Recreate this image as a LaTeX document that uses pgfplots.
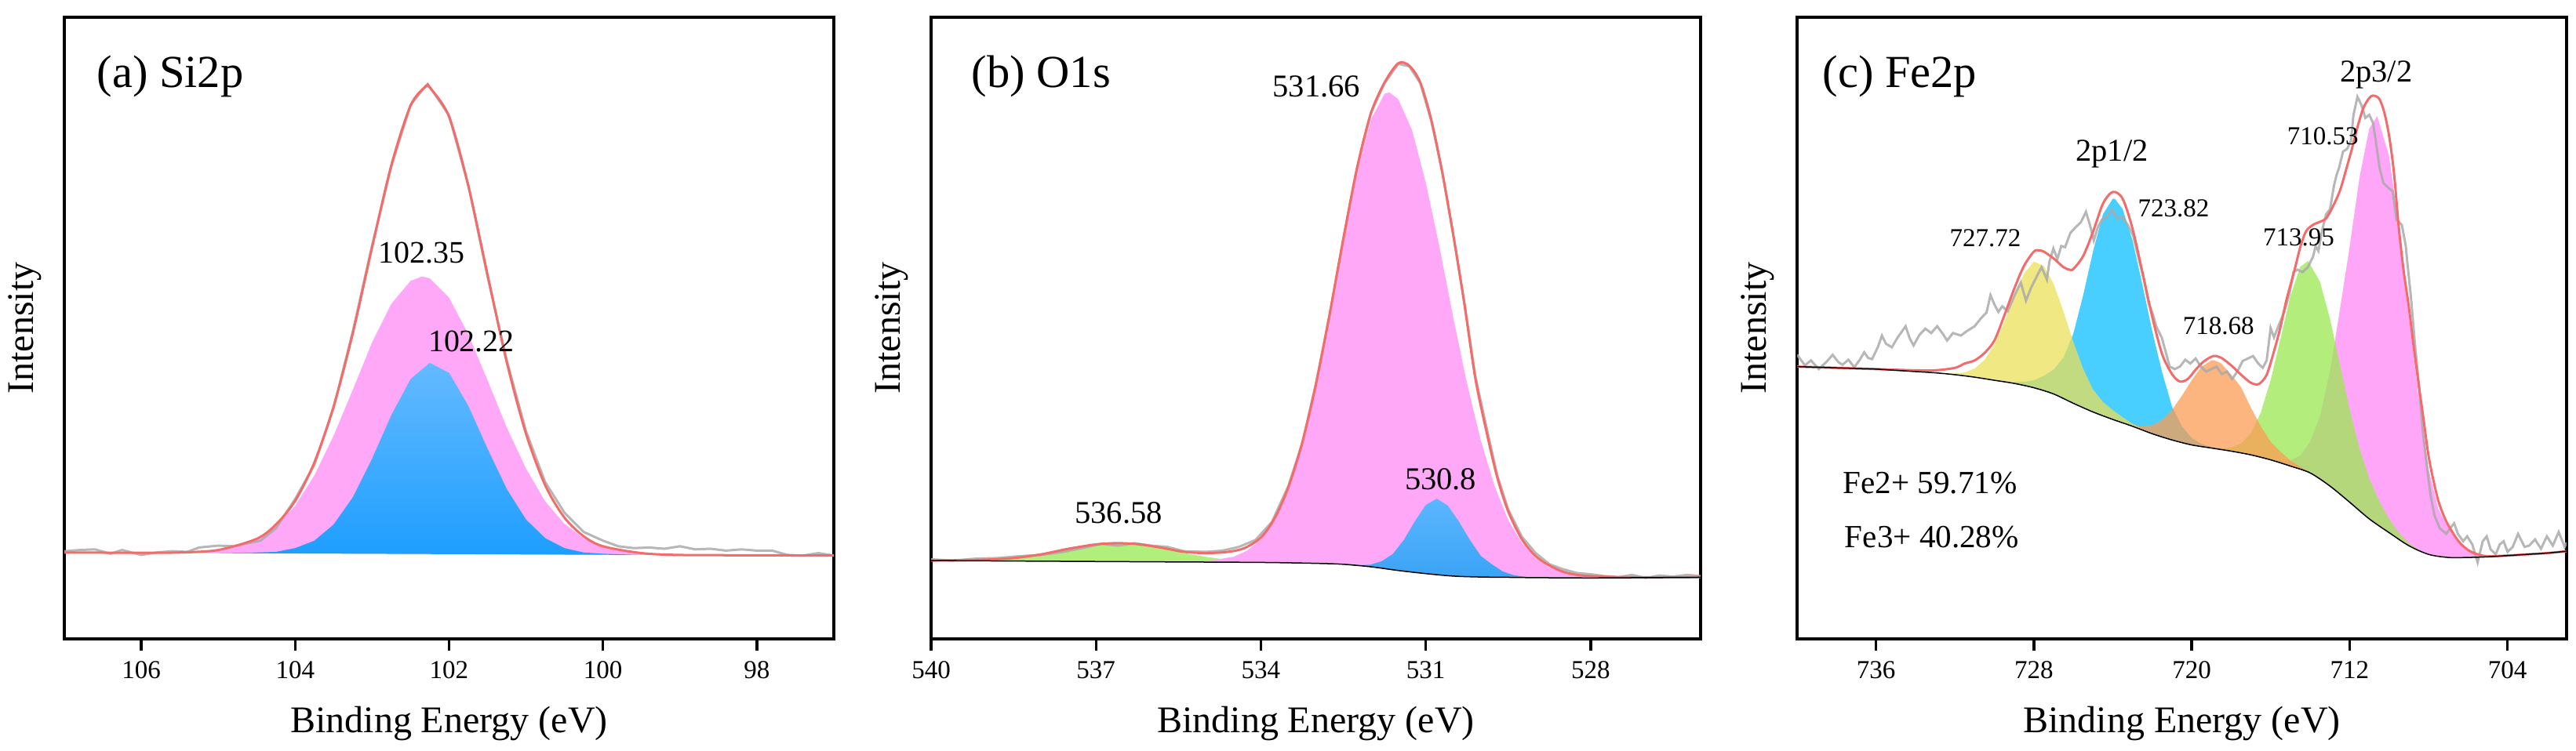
\documentclass[border=0pt]{standalone}
\usepackage{fontspec}
\setmainfont{Liberation Serif}
\usepackage{pgfplots}
\pgfplotsset{compat=1.18}
\definecolor{pinkA}{RGB}{255,168,248}
\definecolor{pinkC}{RGB}{255,166,249}
\definecolor{blueAtop}{RGB}{100,186,255}
\definecolor{blueAbot}{RGB}{30,158,255}
\definecolor{blueBtop}{RGB}{92,182,255}
\definecolor{blueBbot}{RGB}{58,164,245}
\definecolor{greenB}{RGB}{178,238,124}
\definecolor{yellowC}{RGB}{235,224,88}
\definecolor{blueC}{RGB}{11,191,255}
\definecolor{orangeC}{RGB}{251,156,83}
\definecolor{greenC}{RGB}{154,232,80}
\definecolor{rawgray}{RGB}{170,170,170}
\definecolor{envred}{RGB}{242,108,108}
\pgfplotsset{
  xps/.style={
    scale only axis, width=327pt, height=264.33pt,
    x dir=reverse, ymin=0, ymax=100, ytick=\empty,
    axis line style={line width=1.1pt},
    tick pos=left, tick align=outside, major tick length=5pt,
    every tick/.style={black, line width=1.1pt},
    tick label style={font=\fontsize{11}{13}\selectfont},
    xticklabel style={anchor=base, yshift=-12pt},
    /pgf/number format/assume math mode=true,
    clip mode=individual,
  },
  raw/.style={rawgray, line width=1pt, opacity=0.85},
  env/.style={envred, line width=1pt, smooth, tension=0.5},
}
\newcommand{\axlabels}{%
  \node[xshift=-16.7pt, rotate=90, font=\fontsize{16}{19}\selectfont] at (rel axis cs:0,0.5) {Intensity};
  \node[anchor=base, yshift=-40pt, font=\fontsize{16}{19}\selectfont] at (rel axis cs:0.5,0) {Binding Energy (eV)};
}
\begin{document}
\begin{tikzpicture}
% ---------------- (a) Si2p ----------------
\begin{axis}[xps, at={(27.33pt,47.67pt)}, anchor=south west,
  xmin=97, xmax=107, xtick={98,100,102,104,106}]
\addplot[draw=none, fill=pinkA] coordinates {
 (106,13.85) (105.5,13.9) (105.0,14.3) (104.5,16.0) (104.25,18.1) (104.0,21.4)
 (103.75,26.3) (103.5,32.7) (103.25,40.1) (103.0,47.7) (102.75,53.9) (102.5,57.6)
 (102.35,58.3) (102.25,58.0) (102.0,54.9) (101.75,49.0) (101.5,41.6) (101.25,34.0)
 (101.0,27.4) (100.75,22.1) (100.5,18.5) (100.25,16.2) (100.0,14.8) (99.5,13.8) (99.0,13.5)
} -- cycle;
\addplot[draw=none, top color=blueAtop, bottom color=blueAbot] coordinates {
 (105.0,13.8) (104.5,13.9) (104.25,14.0) (104.0,14.6) (103.75,15.8) (103.5,18.4)
 (103.25,22.8) (103.0,29.0) (102.75,36.0) (102.5,41.8) (102.25,44.4) (102.0,42.8)
 (101.75,37.5) (101.5,30.6) (101.25,24.1) (101.0,19.2) (100.75,16.2) (100.5,14.6)
 (100.25,13.9) (100.0,13.7) (99.5,13.5)
} -- cycle;
\addplot[raw] coordinates {
 (107,14.1) (106.8,14.3) (106.6,14.4) (106.4,13.7) (106.25,14.3) (106.0,13.5) (105.8,13.9)
 (105.6,14.1) (105.4,14.0) (105.25,14.7) (105.0,15.0) (104.8,14.9) (104.65,15.3) (104.45,15.8)
 (104.25,17.8) (104.0,22.5) (103.75,28.0) (103.5,37.2) (103.25,49.5) (103.0,63.3) (102.75,76.0)
 (102.5,85.9) (102.3,89.0) (102.25,88.8) (102.0,84.2) (101.75,73.0) (101.5,58.3) (101.25,44.8)
 (101.0,33.4) (100.75,25.2) (100.5,20.3) (100.25,17.2) (100.0,15.8) (99.8,14.9) (99.6,14.6)
 (99.4,14.7) (99.2,14.5) (99.0,14.9) (98.8,14.4) (98.6,14.5) (98.4,14.2) (98.2,14.4) (98.0,14.2)
 (97.8,14.2) (97.6,13.5) (97.4,13.4) (97.2,13.8) (97.0,13.4)
};
\addplot[env] coordinates {
 (107,13.9) (106.5,13.87) (106,13.85) (105.5,13.9) (105.0,14.3) (104.5,16.1) (104.25,18.4)
 (104.0,22.2) (103.75,28.4) (103.5,37.4) (103.25,49.2) (103.0,63.0) (102.75,76.2) (102.5,85.8)
 (102.3,88.9) (102.25,88.7) (102.0,84.0) (101.75,72.9) (101.5,58.6) (101.25,44.5) (101.0,33.0)
 (100.75,24.7) (100.5,19.5) (100.25,16.5) (100.0,14.9) (99.5,13.8) (99.0,13.5) (98,13.45) (97,13.4)
};
\node[anchor=base west, font=\fontsize{19.5}{23}\selectfont] at (rel axis cs:0.0316,0.887) {(a) Si2p};
\node[font=\fontsize{13.3}{16}\selectfont] at (axis cs:102.36,62.1) {102.35};
\node[font=\fontsize{13.3}{16}\selectfont] at (axis cs:101.71,47.8) {102.22};
\axlabels
\end{axis}
% ---------------- (b) O1s ----------------
\begin{axis}[xps, at={(395.67pt,47.67pt)}, anchor=south west,
  xmin=526, xmax=540, xtick={528,531,534,537,540}]
\addplot[draw=none, fill=greenB] coordinates {
 (540,12.6) (539.5,12.62) (539,12.72) (538.5,13.0) (538,13.6) (537.5,14.5) (537,15.2)
 (536.6,15.4) (536.2,15.2) (535.8,14.6) (535.4,13.8) (535,13.2) (534.6,12.7) (534.2,12.5)
 (533.8,12.3) (533.4,12.2)
 (534,12.3) (536,12.4) (538,12.5)
} -- cycle;
\addplot[draw=none, fill=pinkA] coordinates {
 (535.5,12.4) (535,12.5) (534.5,13.2) (534.25,14.2) (534,16.0) (533.75,19.1) (533.5,24.0)
 (533.25,31.1) (533,40.6) (532.75,51.8) (532.5,63.9) (532.25,75.1) (532,83.5) (531.75,87.7)
 (531.66,87.9) (531.5,86.8) (531.25,81.85) (531,73.4) (530.75,63.0) (530.5,51.7) (530.25,41.1)
 (530,31.95) (529.75,24.6) (529.5,19.1) (529.25,15.4) (529,12.95) (528.75,11.5) (528.5,10.65)
 (528.25,10.2) (528,9.97) (527.5,9.85)
 (528,9.8) (529,9.85) (529.5,9.9) (530,9.95) (530.5,10.1) (531,10.5) (531.5,11.0) (532,11.6)
 (532.5,12.0) (533,12.15) (534,12.3) (535,12.37)
} -- cycle;
\addplot[draw=none, top color=blueBtop, bottom color=blueBbot] coordinates {
 (532.4,11.85) (532.2,11.85) (532,11.95) (531.8,12.5) (531.6,13.65) (531.4,15.9) (531.2,18.9)
 (531,21.55) (530.8,22.55) (530.6,21.45) (530.4,18.9) (530.2,15.95) (530,13.35) (529.8,12.0)
 (529.6,10.85) (529.4,10.25) (529.2,9.98) (529,9.85)
 (529.5,9.9) (530,9.95) (530.5,10.1) (531,10.5) (531.5,11.0) (532,11.6)
} -- cycle;
\addplot[raw] coordinates {
 (540,12.8) (539.6,12.6) (539.2,12.9) (538.8,13.0) (538.4,13.3) (538,13.5) (537.6,14.0)
 (537.2,14.7) (536.9,15.3) (536.6,15.0) (536.3,15.4) (536.0,15.0) (535.7,14.8) (535.4,14.1)
 (535.0,14.0) (534.7,14.2) (534.4,14.8) (534.1,15.9) (533.8,18.8) (533.5,24.6) (533.25,31.4)
 (533.0,41.0) (532.75,52.1) (532.5,64.2) (532.25,75.7) (532.0,84.6) (531.75,89.4) (531.5,92.5)
 (531.3,92.1) (531.1,89.4) (530.9,83.3) (530.7,75.2) (530.5,65.0) (530.3,54.2) (530.1,42.3)
 (529.9,34.2) (529.7,26.3) (529.5,20.8) (529.25,16.4) (529.0,13.8) (528.75,12.0) (528.5,11.2)
 (528.25,10.6) (528.0,10.4) (527.75,10.1) (527.5,9.9) (527.25,10.3) (527.0,9.8) (526.75,10.2)
 (526.5,10.0) (526.25,10.3) (526.0,10.1)
};
\addplot[env] coordinates {
 (540,12.6) (539.5,12.65) (539,12.75) (538.5,13.0) (538,13.6) (537.5,14.5) (537,15.2)
 (536.6,15.4) (536.2,15.2) (535.8,14.65) (535.4,14.0) (535.0,13.8) (534.6,14.0) (534.3,14.6)
 (534.0,16.3) (533.75,19.4) (533.5,24.4) (533.25,31.5) (533.0,40.9) (532.75,52.2) (532.5,64.4)
 (532.25,75.8) (532.0,84.5) (531.75,89.5) (531.5,92.6) (531.3,92.2) (531.1,89.5) (530.9,83.5)
 (530.7,75.0) (530.5,65.0) (530.3,54.0) (530.1,42.0) (529.9,33.5) (529.7,26.0) (529.5,20.5)
 (529.25,16.0) (529.0,13.3) (528.75,11.8) (528.5,10.8) (528.25,10.3) (528.0,10.1) (527.5,9.95)
 (527,9.9) (526.5,9.9) (526,9.95)
};
\addplot[black, line width=0.5pt, smooth, tension=0.5] coordinates {
 (540,12.6) (538,12.5) (536,12.4) (534,12.3) (533,12.15) (532.5,12.0) (532,11.6) (531.5,11.0)
 (531,10.5) (530.5,10.1) (530,9.95) (529.5,9.9) (529,9.85) (528,9.8) (527,9.85) (526,9.9)
};
\node[anchor=base west, font=\fontsize{19.5}{23}\selectfont] at (rel axis cs:0.042,0.887) {(b) O1s};
\node[font=\fontsize{13.5}{16}\selectfont] at (axis cs:532.99,88.8) {531.66};
\node[font=\fontsize{13.5}{16}\selectfont] at (axis cs:536.59,20.3) {536.58};
\node[font=\fontsize{13.5}{16}\selectfont] at (axis cs:530.73,25.7) {530.8};
\axlabels
\end{axis}
% ---------------- (c) Fe2p ----------------
\begin{axis}[xps, at={(763.67pt,47.67pt)}, anchor=south west,
  xmin=701, xmax=740, xtick={704,712,720,728,736}]
\addplot[draw=none, fill=pinkC] coordinates {
 (716,28.9) (715.5,28.6) (715,28.7) (714.5,29.5) (714,31.7) (713.5,35.75) (713,42.9)
 (712.5,52.75) (712,63.0) (711.5,74.15) (711,82.1) (710.6,84.1) (710,77.7) (709.5,66.25)
 (709,52.2) (708.5,38.9) (708,27.4) (707.5,20.85) (707,17.9) (706.5,15.7) (706,14.5)
 (705.5,13.65) (705,13.3)
 (705,13.2) (706,13.1) (707,13.1) (708,13.6) (709,15.0) (710,17.1) (711,19.3) (712,22.0)
 (713,24.6) (714,26.7) (715,27.8)
} -- cycle;
\addplot[draw=none, fill=greenC, fill opacity=0.75] coordinates {
 (719,30.75) (718.5,30.6) (718,30.75) (717.5,31.4) (717,33.1) (716.5,36.4) (716,41.6)
 (715.5,48.3) (715,55.1) (714.5,59.85) (714.1,60.8) (713.5,57.45) (713,51.6) (712.5,44.3)
 (712,37.0) (711.5,30.65) (711,25.8) (710.5,22.2) (710,19.3) (709.5,17.05) (709,15.4) (708.5,14.4)
 (709,15.0) (710,17.1) (711,19.3) (712,22.0) (713,24.6) (714,26.7) (715,27.8) (716,28.8)
 (717,29.6) (718,30.2) (719,30.7)
} -- cycle;
\addplot[draw=none, fill=blueC, fill opacity=0.75] coordinates {
 (729,41.4) (728.5,41.35) (728,41.6) (727.5,42.3) (727,43.3) (726.5,45.25) (726,49.1)
 (725.5,55.3) (725,62.35) (724.5,68.3) (724,70.8) (723.9,70.8) (723.5,69.15) (723,64.1)
 (722.5,57.0) (722,49.5) (721.5,42.9) (721,37.4) (720.5,34.2) (720,32.3) (719.5,31.35)
 (719,30.85) (718.5,30.5)
 (719,30.7) (720,31.2) (721,32.0) (722,33.0) (723,34.2) (724,35.3) (725,36.5) (726,37.9)
 (727,39.4) (728,40.4) (729,41.1)
} -- cycle;
\addplot[draw=none, fill=orangeC, fill opacity=0.75] coordinates {
 (723,34.45) (722.5,34.2) (722,34.4) (721.5,35.2) (721,36.8) (720.5,39.1) (720,41.6)
 (719.5,43.8) (719,44.8) (718.85,44.8) (718.5,44.3) (718,42.5) (717.5,40.5) (717,37.2)
 (716.5,34.2) (716,31.7) (715.5,30.1) (715,28.7) (714.5,27.65) (714,26.85) (713.5,25.7)
 (714,26.7) (715,27.8) (716,28.8) (717,29.6) (718,30.2) (719,30.7) (720,31.2) (721,32.0)
 (722,33.0) (723,34.2)
} -- cycle;
\addplot[draw=none, fill=yellowC, fill opacity=0.75] coordinates {
 (733,42.8) (732,42.7) (731.5,42.87) (731,43.49) (730.5,44.87) (730,47.35) (729.5,50.95)
 (729,55.15) (728.5,58.75) (728,60.69) (727.5,59.99) (727,57.15) (726.5,52.65) (726,47.78)
 (725.5,43.42) (725,40.1) (724.5,38.1) (724,36.8) (723.5,35.65) (723,34.6) (722.5,33.7)
 (723,34.2) (724,35.3) (725,36.5) (726,37.9) (727,39.4) (728,40.4) (729,41.1) (730,41.6)
 (731,42.1) (732,42.5) (733,42.8)
} -- cycle;
\addplot[raw] coordinates {
 (740.0,45.7) (739.6,44.0) (739.3,44.8) (738.9,43.4) (738.5,44.6) (738.2,45.7) (737.9,44.5)
 (737.7,44.1) (737.4,44.9) (737.1,43.7) (736.8,45.0) (736.6,46.1) (736.4,45.2) (736.2,45.0)
 (735.9,47.0) (735.7,48.8) (735.5,47.5) (735.2,46.9) (734.9,48.5) (734.5,50.3) (734.3,48.4)
 (734.1,47.2) (733.8,48.9) (733.5,49.9) (733.2,49.2) (732.9,50.3) (732.6,49.0) (732.4,48.0)
 (732.1,49.2) (731.7,48.8) (731.4,49.5) (731.0,50.3) (730.7,51.5) (730.4,52.5) (730.2,55.3)
 (730.0,53.8) (729.8,52.6) (729.6,53.5) (729.33,52.7) (728.93,55.6) (728.66,57.3) (728.40,54.4)
 (728.14,56.5) (727.87,58.2) (727.61,59.8) (727.34,57.8) (727.21,60.7) (727.01,62.8) (726.81,61.1)
 (726.61,63.2) (726.42,63.0) (726.15,65.3) (725.89,66.2) (725.62,67.0) (725.36,68.7) (725.16,66.6)
 (724.96,64.1) (724.76,66.2) (724.56,67.4) (724.30,67.8) (724.03,69.1) (723.77,67.6) (723.50,67.8)
 (723.24,66.6) (722.97,64.9) (722.71,61.5) (722.45,58.2) (722.18,54.0) (721.98,52.3) (721.79,50.2)
 (721.52,48.5) (721.26,45.5) (721.12,43.8) (720.86,43.4) (720.60,43.8) (720.33,44.9) (720.07,44.3)
 (719.80,45.1) (719.54,43.8) (719.27,43.0) (719.01,43.4) (718.74,43.8) (718.48,42.6) (718.21,43.0)
 (717.95,41.8) (717.69,43.0) (717.42,44.7) (717.16,45.1) (716.89,45.5) (716.63,44.3) (716.4,43.6)
 (716.2,44.8) (716.0,50.0) (715.83,48.5) (715.57,50.6) (715.30,52.7) (715.04,55.6) (714.84,59.0)
 (714.64,59.4) (714.38,59.0) (714.11,59.8) (713.85,61.5) (713.72,63.2) (713.58,62.4) (713.39,65.7)
 (713.19,68.3) (712.99,69.1) (712.79,72.9) (712.66,74.6) (712.53,75.8) (712.33,78.4) (712.13,78.8)
 (711.93,80.1) (711.80,84.3) (711.60,87.2) (711.40,85.9) (711.20,83.8) (711.00,84.3) (710.81,83.0)
 (710.67,80.1) (710.48,75.8) (710.28,73.3) (710.01,72.5) (709.81,72.0) (709.62,67.4) (709.35,66.6)
 (709.15,63.2) (709.09,61.1) (708.89,55.0) (708.69,47.5) (708.49,41.0) (708.29,33.5) (708.09,28.0)
 (707.90,23.2) (707.70,19.9) (707.43,17.8) (707.10,16.9) (706.90,17.8) (706.70,18.6) (706.51,16.9)
 (706.24,15.7) (706.04,16.5) (705.78,15.2) (705.51,12.3) (705.25,15.7) (705.05,16.5) (704.85,14.4)
 (704.59,13.6) (704.39,15.2) (704.19,15.7) (703.99,14.0) (703.73,14.8) (703.46,16.9) (703.27,15.7)
 (703.13,14.8) (702.9,15.0) (702.6,16.0) (702.3,14.5) (702.0,16.5) (701.7,15.0) (701.4,17.2)
 (701.1,14.8) (701.0,15.5)
};
\addplot[env] coordinates {
 (740,43.8) (739,43.7) (738,43.6) (737,43.5) (736,43.4) (735,43.3) (734,43.2) (733,43.2)
 (732,43.6) (731.5,44.3) (731,44.8) (730.5,46.0) (730,48.0) (729.5,52.0) (729,56.3) (728.5,60.0)
 (728,62.3) (727.75,62.5) (727.5,62.3) (727,61.2) (726.5,59.8) (726.2,59.4) (726,59.5)
 (725.5,61.6) (725,65.5) (724.5,70.0) (724,71.9) (723.5,70.8) (723,66.0) (722.5,59.0)
 (722,51.8) (721.5,45.8) (721,42.6) (720.6,41.4) (720.2,41.8) (719.8,43.3) (719.4,44.6)
 (718.9,45.5) (718.5,45.2) (718,44.0) (717.5,42.5) (717,41.2) (716.6,41.0) (716.2,42.5)
 (715.8,46.6) (715.5,50.2) (715.2,54.5) (714.8,59.2) (714.5,63.0) (714.2,65.6) (713.85,66.6)
 (713.5,67.1) (713.2,67.6) (712.9,69.2) (712.5,72.0) (712.2,75.2) (711.9,78.6) (711.6,82.3)
 (711.3,85.4) (711.0,87.0) (710.8,87.4) (710.5,86.9) (710.25,84.8) (710.0,81.0) (709.75,75.0)
 (709.5,66.0) (709.25,59.0) (709.0,53.5) (708.75,47.0) (708.5,41.0) (708.25,35.3) (708.0,29.5)
 (707.75,25.5) (707.5,22.2) (707.25,20.0) (707.0,18.3) (706.5,15.8) (706.0,14.3) (705.5,13.6)
 (705.0,13.3) (704,13.4) (703,13.6) (702,13.8) (701,14.1)
};
\addplot[black, line width=0.5pt, smooth, tension=0.5] coordinates {
 (740,43.8) (739,43.7) (738,43.6) (737,43.5) (736,43.4) (735,43.2) (734,43.0) (733,42.8)
 (732,42.5) (731,42.1) (730,41.6) (729,41.1) (728,40.4) (727,39.4) (726,37.9) (725,36.5)
 (724,35.3) (723,34.2) (722,33.0) (721,32.0) (720,31.2) (719,30.7) (718,30.2) (717,29.6)
 (716,28.8) (715,27.8) (714,26.7) (713,24.6) (712,22.0) (711,19.3) (710,17.1) (709,15.0)
 (708,13.6) (707,13.1) (706,13.1) (705,13.2) (704,13.4) (703,13.6) (702,13.8) (701,14.1)
};
\node[anchor=base west, font=\fontsize{19.5}{23}\selectfont] at (rel axis cs:0.0224,0.887) {(c) Fe2p};
\node[font=\fontsize{13.5}{16}\selectfont] at (axis cs:710.65,90.7) {2p3/2};
\node[font=\fontsize{13.5}{16}\selectfont] at (axis cs:724.04,78.0) {2p1/2};
\node[font=\fontsize{11}{13}\selectfont] at (axis cs:713.35,80.9) {710.53};
\node[font=\fontsize{11}{13}\selectfont] at (axis cs:720.92,69.2) {723.82};
\node[font=\fontsize{11}{13}\selectfont] at (axis cs:730.46,64.4) {727.72};
\node[font=\fontsize{11}{13}\selectfont] at (axis cs:714.58,64.6) {713.95};
\node[font=\fontsize{11}{13}\selectfont] at (axis cs:718.64,50.3) {718.68};
\node[anchor=west, font=\fontsize{13.7}{16}\selectfont] at (axis cs:738.09,25.1) {Fe2+ 59.71\%};
\node[anchor=west, font=\fontsize{13.7}{16}\selectfont] at (axis cs:738.0,16.4) {Fe3+ 40.28\%};
\axlabels
\end{axis}
\pgfresetboundingbox
\path[use as bounding box] (0,0) rectangle (1094.67pt,319.33pt);
\end{tikzpicture}
\end{document}
